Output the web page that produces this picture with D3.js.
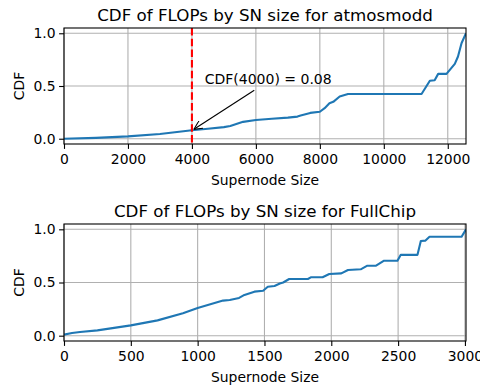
<!DOCTYPE html>
<html>
<head>
<meta charset="utf-8">
<script src="https://cdn.jsdelivr.net/npm/d3@7"></script>
<style>
  body { margin: 0; background: #fff; }
  svg { display: block; font-family: "DejaVu Sans", sans-serif; }
</style>
</head>
<body>
<svg></svg>
<script>
var width = 480;
var height = 387;

// atmosmodd: supernode size vs cumulative share of FLOPs
var atmosSizes = [0, 1000, 2000, 3000, 3600, 4000, 4500, 5000, 5200, 5600, 6000, 6500, 7000, 7300, 7400, 7700, 8000, 8150, 8300, 8420, 8620, 8880, 11180, 11440, 11590, 11700, 11960, 12220, 12320, 12430, 12570];
var atmosCdf = [0, 0.008, 0.022, 0.045, 0.066, 0.08, 0.095, 0.11, 0.12, 0.16, 0.178, 0.19, 0.2, 0.21, 0.22, 0.245, 0.256, 0.29, 0.336, 0.35, 0.40, 0.424, 0.424, 0.55, 0.555, 0.615, 0.615, 0.71, 0.78, 0.905, 1.0];
var atmosTicks = [0, 2000, 4000, 6000, 8000, 10000, 12000];

// FullChip
var chipSizes = [0, 60, 120, 250, 500, 700, 890, 1000, 1190, 1240, 1310, 1350, 1425, 1490, 1525, 1575, 1615, 1640, 1685, 1825, 1850, 1935, 1985, 2075, 2125, 2220, 2270, 2335, 2395, 2495, 2520, 2645, 2670, 2705, 2735, 2975, 3008];
var chipCdf = [0.01, 0.025, 0.035, 0.05, 0.097, 0.144, 0.21, 0.26, 0.33, 0.336, 0.355, 0.383, 0.414, 0.423, 0.46, 0.467, 0.49, 0.50, 0.533, 0.533, 0.55, 0.55, 0.58, 0.586, 0.618, 0.624, 0.658, 0.658, 0.705, 0.705, 0.76, 0.76, 0.89, 0.894, 0.93, 0.93, 1.0];
var chipTicks = [0, 500, 1000, 1500, 2000, 2500, 3000];

var yTicks = [0, 0.5, 1.0];

// marker for the annotation
var markSize = 4000;
var markCdf = 0.08;
var markLabel = "CDF(4000) = 0.08";

var svg = d3.select('svg')
    .attr('width', width)
    .attr('height', height);

var defs = svg.append('defs');
defs.append('marker')
    .attr('id', 'arrowhead')
    .attr('viewBox', '0 0 10 10')
    .attr('refX', 10).attr('refY', 5)
    .attr('markerWidth', 9).attr('markerHeight', 9)
    .attr('markerUnits', 'userSpaceOnUse')
    .attr('orient', 'auto')
    .append('path')
    .attr('d', 'M0,0 L10,5 L0,10')
    .attr('fill', 'none')
    .attr('stroke', '#000')
    .attr('stroke-width', 1.2);

var drawPanel = function(opts) {
    var left = 64, right = 466;
    var x = d3.scaleLinear().domain([0, opts.xmax]).range([left, right]);
    var y = d3.scaleLinear().domain([-0.05, 1.05]).range([opts.bottom, opts.top]);

    var g = svg.append('g');

    defs.append('clipPath').attr('id', 'clip' + opts.id)
        .append('rect')
        .attr('x', left).attr('y', opts.top)
        .attr('width', right - left).attr('height', opts.bottom - opts.top);

    // grid
    g.selectAll('.vgrid').data(opts.xticks).enter().append('line')
        .attr('x1', d => x(d)).attr('x2', d => x(d))
        .attr('y1', opts.top).attr('y2', opts.bottom)
        .attr('stroke', '#b0b0b0').attr('stroke-width', 1.1);
    g.selectAll('.hgrid').data(yTicks).enter().append('line')
        .attr('x1', left).attr('x2', right)
        .attr('y1', d => y(d)).attr('y2', d => y(d))
        .attr('stroke', '#b0b0b0').attr('stroke-width', 1.1);

    var pts = opts.sizes.map((s, i) => [s, opts.cdf[i]]);
    var line = d3.line().x(d => x(d[0])).y(d => y(d[1]));

    var plot = g.append('g').attr('clip-path', 'url(#clip' + opts.id + ')');
    plot.append('path')
        .datum(pts)
        .attr('d', line)
        .attr('fill', 'none')
        .attr('stroke', '#1f77b4')
        .attr('stroke-width', 2.1)
        .attr('stroke-linejoin', 'round');

    if (opts.annotate) {
        plot.append('line')
            .attr('x1', x(markSize)).attr('x2', x(markSize))
            .attr('y1', opts.top).attr('y2', opts.bottom)
            .attr('stroke', '#ff0000').attr('stroke-width', 2.1)
            .attr('stroke-dasharray', '7.5,3.2');
        g.append('line')
            .attr('x1', x(5950)).attr('y1', y(0.46))
            .attr('x2', x(markSize) + 2).attr('y2', y(markCdf) - 1)
            .attr('stroke', '#000').attr('stroke-width', 1.1)
            .attr('marker-end', 'url(#arrowhead)');
        g.append('text')
            .attr('x', x(4400)).attr('y', y(0.52))
            .attr('font-size', 14)
            .text(markLabel);
    }

    // spines
    g.append('rect')
        .attr('x', left).attr('y', opts.top)
        .attr('width', right - left).attr('height', opts.bottom - opts.top)
        .attr('fill', 'none').attr('stroke', '#000').attr('stroke-width', 1.1);

    var xAxis = d3.axisBottom(x).tickValues(opts.xticks).tickSize(4.9).tickPadding(4.9).tickFormat(d3.format('d'));
    var xa = g.append('g').attr('transform', 'translate(0,' + opts.bottom + ')').call(xAxis);
    var yAxis = d3.axisLeft(y).tickValues(yTicks).tickSize(4.9).tickPadding(3.5).tickFormat(d3.format('.1f'));
    var ya = g.append('g').attr('transform', 'translate(' + left + ',0)').call(yAxis);
    [xa, ya].forEach(a => {
        a.select('.domain').remove();
        a.selectAll('line').attr('stroke', '#000').attr('stroke-width', 1.1);
        a.selectAll('text').attr('font-size', 13.9).attr('fill', '#000').attr('font-family', '"DejaVu Sans", sans-serif');
    });

    g.append('text')
        .attr('x', (left + right) / 2).attr('y', opts.bottom + 41)
        .attr('text-anchor', 'middle').attr('font-size', 13.9)
        .text('Supernode Size');
    g.append('text')
        .attr('transform', 'translate(24,' + ((opts.top + opts.bottom) / 2) + ') rotate(-90)')
        .attr('text-anchor', 'middle').attr('font-size', 13.9)
        .text('CDF');
    g.append('text')
        .attr('x', (left + right) / 2).attr('y', opts.top - 7.5)
        .attr('text-anchor', 'middle').attr('font-size', 16.7)
        .text(opts.title);
};

drawPanel({id: 1, top: 28, bottom: 144, xmax: 12570, xticks: atmosTicks,
    sizes: atmosSizes, cdf: atmosCdf, title: 'CDF of FLOPs by SN size for atmosmodd', annotate: true});
drawPanel({id: 2, top: 224, bottom: 341, xmax: 3008, xticks: chipTicks,
    sizes: chipSizes, cdf: chipCdf, title: 'CDF of FLOPs by SN size for FullChip', annotate: false});
</script>
</body>
</html>
